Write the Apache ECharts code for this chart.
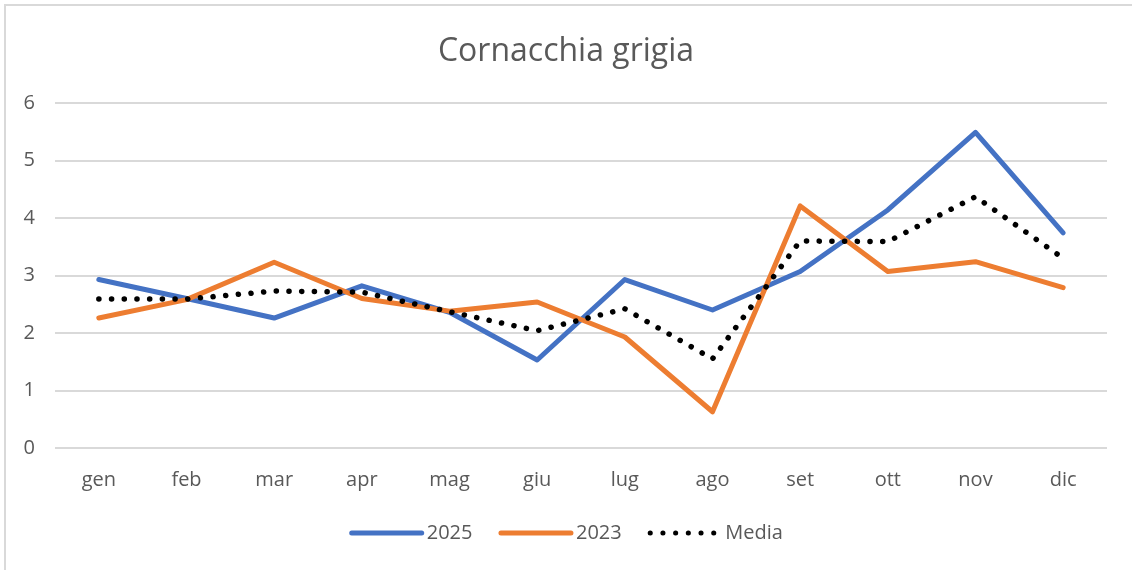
<!DOCTYPE html>
<html>
<head>
<meta charset="utf-8">
<script src="https://cdn.jsdelivr.net/npm/echarts@6/dist/echarts.min.js"></script>
<style>
  html, body { margin: 0; padding: 0; background: #fff; }
  #frame { position: absolute; left: 4px; top: 4px; width: 1140px; height: 580px; border: 2px solid #d9d9d9; box-sizing: border-box; }
  #chart { position: absolute; left: 0; top: 0; width: 1132px; height: 570px; }
</style>
</head>
<body>
<div id="frame"></div>
<div id="chart"></div>
<script>
  // dati
  var mesi = ['gen', 'feb', 'mar', 'apr', 'mag', 'giu', 'lug', 'ago', 'set', 'ott', 'nov', 'dic'];
  var anno2025 = [2.93, 2.6, 2.26, 2.82, 2.36, 1.53, 2.93, 2.4, 3.07, 4.14, 5.49, 3.74];
  var anno2023 = [2.26, 2.58, 3.23, 2.6, 2.38, 2.54, 1.93, 0.63, 4.21, 3.07, 3.24, 2.79];
  var media = [2.59, 2.59, 2.73, 2.71, 2.37, 2.04, 2.42, 1.55, 3.6, 3.59, 4.37, 3.3];
  var tickY = [0, 1, 2, 3, 4, 5, 6];

  var font = '"Open Sans", "Liberation Sans", sans-serif';
  var grigio = '#595959';

  var myChart = echarts.init(document.getElementById('chart'));
  var option = {
    animation: false,
    title: {
      text: 'Cornacchia grigia',
      left: 'center',
      top: 31,
      textStyle: { fontFamily: font, fontSize: 32, fontWeight: 'normal', color: grigio }
    },
    legend: {
      bottom: 22,
      left: 'center',
      itemWidth: 70,
      itemHeight: 10,
      itemGap: 26,
      itemStyle: { opacity: 0 },
      lineStyle: { width: 5, cap: 'round' },
      textStyle: { fontFamily: font, fontSize: 20, color: grigio },
      data: ['2025', '2023', 'Media']
    },
    grid: { left: 55, right: 25, top: 103, bottom: 122 },
    xAxis: {
      type: 'category',
      data: mesi,
      boundaryGap: true,
      axisLine: { show: false },
      axisTick: { show: false },
      axisLabel: { fontFamily: font, fontSize: 20, color: grigio, margin: 22 }
    },
    yAxis: {
      type: 'value',
      min: tickY[0],
      max: tickY[tickY.length - 1],
      interval: 1,
      axisLine: { show: false },
      axisTick: { show: false },
      axisLabel: { fontFamily: font, fontSize: 20, color: grigio, margin: 20 },
      splitLine: { lineStyle: { color: '#d9d9d9', width: 2 } }
    },
    series: [
      {
        name: '2025',
        type: 'line',
        data: anno2025,
        symbol: 'none',
        color: '#4472c4',
        lineStyle: { width: 5, cap: 'round', join: 'round' }
      },
      {
        name: '2023',
        type: 'line',
        data: anno2023,
        symbol: 'none',
        color: '#ed7d31',
        lineStyle: { width: 5, cap: 'round', join: 'round' }
      },
      {
        name: 'Media',
        type: 'line',
        data: media,
        symbol: 'none',
        color: '#000000',
        lineStyle: { width: 5.5, type: [0.1, 12.6], cap: 'round', join: 'round' }
      }
    ]
  };
  myChart.setOption(option);
</script>
</body>
</html>
